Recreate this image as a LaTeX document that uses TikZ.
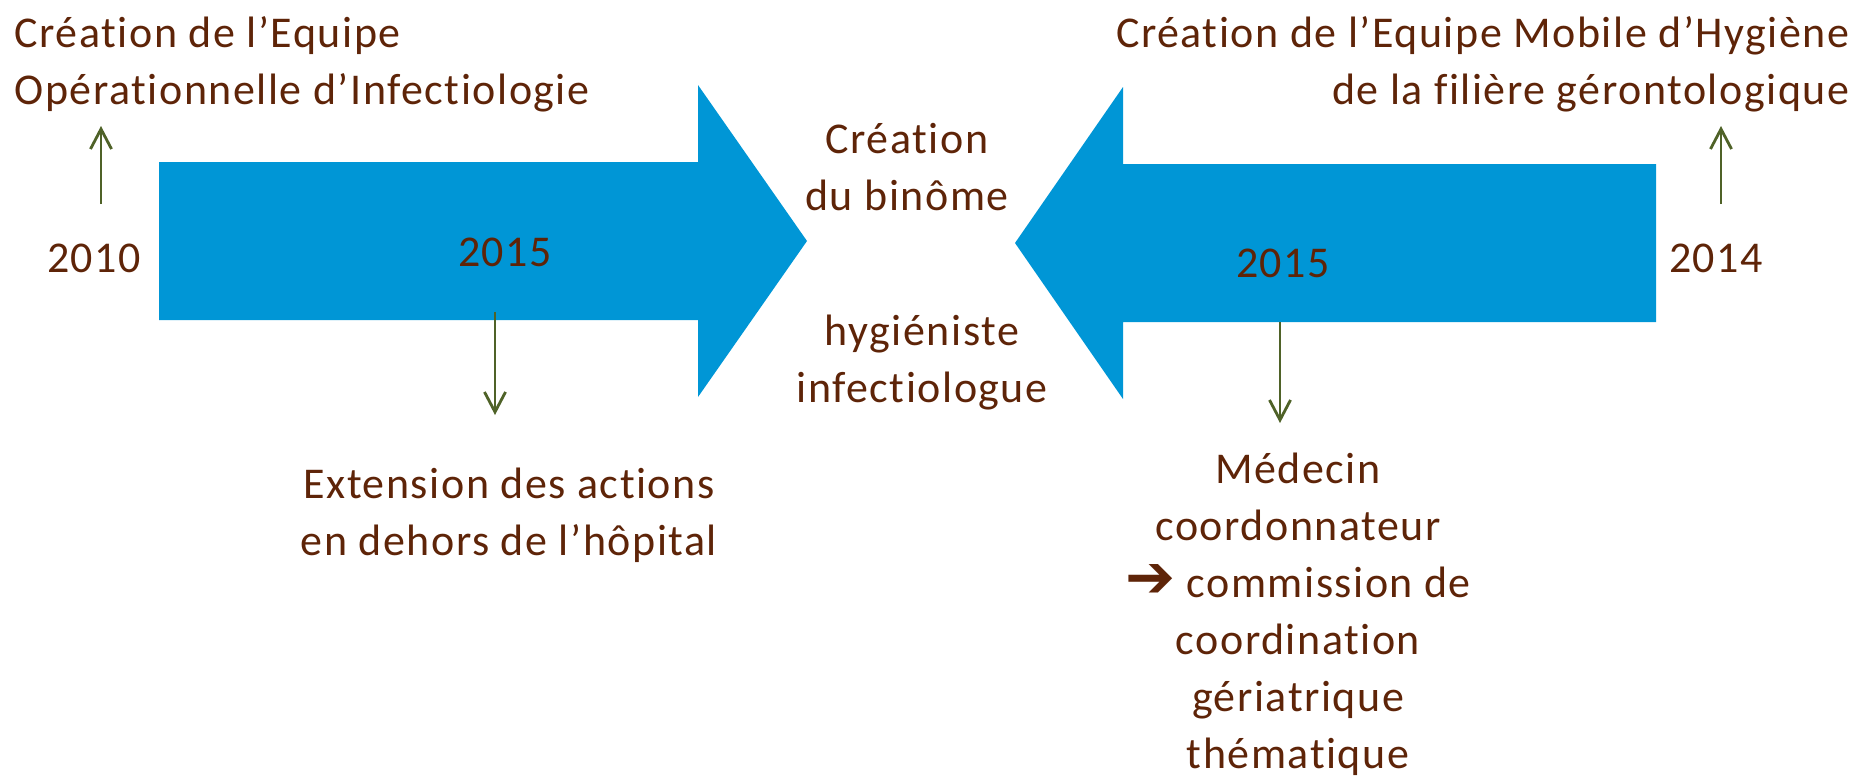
\documentclass[tikz,border=0pt]{standalone}
\usepackage{fontspec}
\setmainfont{Carlito}[Ligatures={NoCommon}, LetterSpace=3.5]
\newfontfamily\symfont{DejaVu Sans Bold}
\usepackage{tikz}
\usetikzlibrary{arrows.meta}
\definecolor{textbrown}{RGB}{94,36,8}
\definecolor{arrowblue}{RGB}{0,150,214}
\definecolor{linegreen}{RGB}{79,98,40}
\tikzset{label style/.style={
		text=textbrown,
		font=\fontsize{12.5}{16.2}\selectfont,
		inner sep=0pt,
		align=center,
	},
	big arrow/.style={
		fill=arrowblue,
	},
	link style/.style={
		draw=linegreen,
		line width=0.8pt,
		-{Straight Barb[length=0.2cm,width=0.21cm]},
	}
}

\begin{document}
\begin{tikzpicture}[x=0.01cm,y=-0.01cm]
	\useasboundingbox (0,0) rectangle (1857,778);
	
	% the two big arrows
	\fill[big arrow] (159,162) -- (698,162) -- (698,85) -- (807,241)
		-- (698,397) -- (698,320) -- (159,320) -- cycle;
	\fill[big arrow] (1656,164) -- (1123,164) -- (1123,87) -- (1015,243)
		-- (1123,399) -- (1123,322) -- (1656,322) -- cycle;
	
	% left side (base = last line)
	\node[label style, anchor=base west, align=left] (EOI) at (14,104)
		{Création de l’Equipe\\Opérationnelle d’Infectiologie};
	\node[label style, anchor=base] (Year2010) at (94,272) {2010};
	\node[label style, anchor=base] (LeftYear2015) at (505,266) {2015};
	\node[label style, anchor=base] (Extension) at (509,555)
		{Extension des actions\\en dehors de l’hôpital};
	
	% centre
	\node[label style, anchor=base] (Binome) at (907,210) {Création\\du binôme};
	\node[label style, anchor=base] (Members) at (922,402) {hygiéniste\\infectiologue};
	
	% right side
	\node[label style, anchor=base east, align=right] (EMH) at (1850,104)
		{Création de l’Equipe Mobile d’Hygiène\\de la filière gérontologique};
	\node[label style, anchor=base] (Year2014) at (1716,272) {2014};
	\node[label style, anchor=base] (RightYear2015) at (1283,277) {2015};
	\node[label style, anchor=base] (Coordinator) at (1298,768)
		{Médecin\\coordonnateur\\{\symfont\fontsize{17}{16.2}\selectfont ➔} commission de\\coordination\\gériatrique\\thématique};
	
	% green links
	\coordinate (EOIfoot) at (101,204);
	\coordinate (EOIhead) at (101,126);
	\coordinate (EMHfoot) at (1721,204);
	\coordinate (EMHhead) at (1721,126);
	\coordinate (LeftStart) at (495,312);
	\coordinate (LeftEnd) at (495,415);
	\coordinate (RightStart) at (1280,322);
	\coordinate (RightEnd) at (1280,423);
	\draw[link style] (EOIfoot) -- (EOIhead);
	\draw[link style] (EMHfoot) -- (EMHhead);
	\draw[link style] (LeftStart) -- (LeftEnd);
	\draw[link style] (RightStart) -- (RightEnd);
\end{tikzpicture}
\end{document}
